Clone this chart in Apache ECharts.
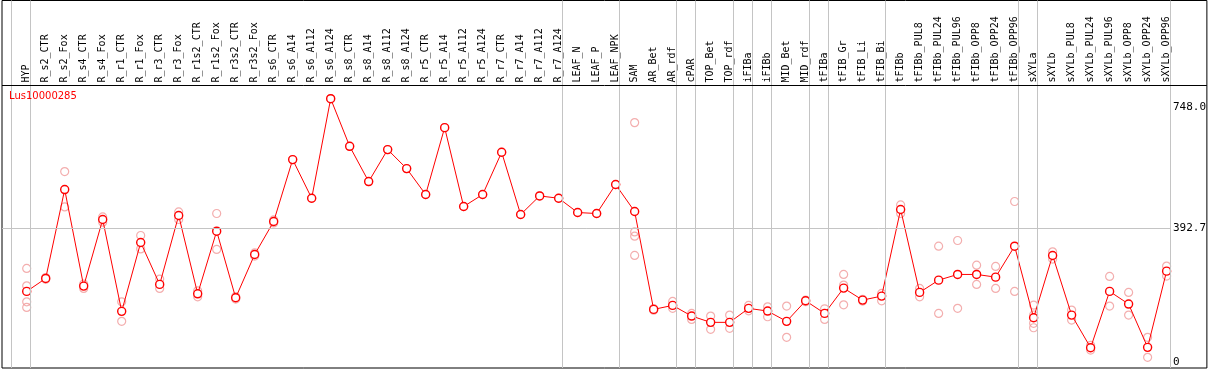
<!DOCTYPE html>
<html>
<head>
<meta charset="utf-8">
<script src="https://cdn.jsdelivr.net/npm/echarts@6/dist/echarts.min.js"></script>
<style>html,body{margin:0;padding:0;background:#fff;}#c{width:1209px;height:370px;}</style>
</head>
<body>
<div id="c"></div>
<script>
const geneName = 'Lus10000285';
const categories = ['HYP','R_s2_CTR','R_s2_Fox','R_s4_CTR','R_s4_Fox','R_r1_CTR','R_r1_Fox','R_r3_CTR','R_r3_Fox','R_r1s2_CTR','R_r1s2_Fox','R_r3s2_CTR','R_r3s2_Fox','R_s6_CTR','R_s6_A14','R_s6_A112','R_s6_A124','R_s8_CTR','R_s8_A14','R_s8_A112','R_s8_A124','R_r5_CTR','R_r5_A14','R_r5_A112','R_r5_A124','R_r7_CTR','R_r7_A14','R_r7_A112','R_r7_A124','LEAF_N','LEAF_P','LEAF_NPK','SAM','AR_Bet','AR_rdf','cPAR','TOP_Bet','TOP_rdf','iFIBa','iFIBb','MID_Bet','MID_rdf','tFIBa','tFIB_Gr','tFIB_Li','tFIB_Bi','tFIBb','tFIBb_PUL8','tFIBb_PUL24','tFIBb_PUL96','tFIBb_OPP8','tFIBb_OPP24','tFIBb_OPP96','sXYLa','sXYLb','sXYLb_PUL8','sXYLb_PUL24','sXYLb_PUL96','sXYLb_OPP8','sXYLb_OPP24','sXYLb_OPP96'];
const meanValues = [208.3,246.3,507.0,223.8,419.1,149.7,351.8,228.8,430.9,201.2,384.9,189.5,316.6,413.3,594.9,481.5,773.5,633.8,530.4,624.2,568.5,492.4,688.6,457.2,492.4,616.3,433.8,488.3,481.5,439.6,436.7,521.7,442.6,155.5,167.2,135.9,117.5,117.5,158.5,150.6,120.4,180.7,143.8,217.9,182.8,194.5,448.4,205.3,241.3,258.0,258.0,250.1,340.9,130.9,313.7,138.8,43.1,208.3,171.1,44.2,267.7];
const replicateValues = [
  [275.6,224.7,177.8,161.4],[244,249],[559.7,456.0],[217,230],[426.8,411.4],[177.8,120.4],[372.3,333.0],[244.3,217.0],[441.4,419.1],[192.4,210],
  [436.7,331.3],[185.7,193],[312,321],[409,418],[595],[481.5],[773.5],[633.8],[530.4],[624.2],
  [568.5],[492.4],[688.6],[457.2],[492.4],[616.3],[433.8],[488.3],[481.5],[439.6],
  [436.7],[521.7],[703.3,382.8,370.2,313.7],[153,158],[179.0,158.5],[143.8,126.2],[135.9,96.9],[138.8,99.9],[167.2,151.4],[163.1,133.9],
  [165.2,73.5],[178,183],[157.3,126.2],[258.0,226.7,169.0],[180,185],[180.7,202.4],[461.9,436.7],[217.0,192.4],[340.9,143.8],[357.6,158.5],
  [285.3,228.8],[281.5,217.0],[471.9,208.3],[168.1,114.5,101.6,139],[324.2,303],[153.5,124.2],[36.3,50],[252.2,165.2],[205.3,138.8],[73.5,14.9],
  [282.4,253.1]
];
const yTickValues = [0, 392.7, 748.0];
const gridlineValues = [392.7];
const groupEnds = [-1,0,28,31,34,35,37,38,39,41,42,45,52,53,60];

const X_MIN = -1.3, X_MAX = 62.12, Y_MIN = -16.4, Y_MAX = 1061.5;
const SEP_OFFSET = 0.19;
const HEADER_LEVEL = 812.5;

const meanData = meanValues.map((v, i) => [i, v]);
const repData = [];
replicateValues.forEach((arr, i) => arr.forEach(v => repData.push([i, v])));

const guideLines = groupEnds.map(g => ({ xAxis: g + SEP_OFFSET }));
gridlineValues.forEach(v => guideLines.push([{ coord: [X_MIN, v] }, { coord: [groupEnds[groupEnds.length - 1] + SEP_OFFSET, v] }]));

const chart = echarts.init(document.getElementById('c'), null, { renderer: 'canvas' });
chart.setOption({
  animation: false,
  backgroundColor: '#ffffff',
  title: {
    text: geneName, left: 9, top: 91, padding: 0,
    textStyle: { color: '#ff0000', fontSize: 10, fontWeight: 'normal', fontFamily: 'DejaVu Sans' }
  },
  grid: { left: 2, right: 2, top: 0.5, bottom: 2, show: true, borderColor: '#000', borderWidth: 1, backgroundColor: 'transparent', containLabel: false },
  xAxis: {
    type: 'value', min: X_MIN, max: X_MAX, position: 'top', offset: -85,
    axisLine: { show: false },
    axisTick: { show: false },
    splitLine: { show: false },
    axisLabel: {
      customValues: categories.map((c, i) => i),
      formatter: v => categories[Math.round(v)] || '',
      rotate: 90, margin: 3, color: '#000', fontSize: 10, fontFamily: 'DejaVu Sans Mono'
    }
  },
  yAxis: {
    type: 'value', min: Y_MIN, max: Y_MAX, position: 'right',
    axisLine: { show: false }, axisTick: { show: false }, splitLine: { show: false },
    axisLabel: {
      customValues: yTickValues,
      formatter: v => (v === 0 ? '0' : v.toFixed(1)),
      inside: true, align: 'left', margin: 34, color: '#000', fontSize: 11, fontFamily: 'DejaVu Sans Mono'
    }
  },
  series: [
    {
      name: 'guides', type: 'line', data: [], silent: true, z: 1,
      markLine: {
        silent: true, symbol: ['none', 'none'], label: { show: false },
        lineStyle: { color: '#c4c4c4', width: 1, type: 'solid' },
        emphasis: { disabled: true },
        data: guideLines
      }
    },
    {
      name: 'header', type: 'line', data: [], silent: true, z: 4,
      markLine: {
        silent: true, symbol: ['none', 'none'], label: { show: false },
        lineStyle: { color: '#000000', width: 1, type: 'solid' },
        emphasis: { disabled: true },
        data: [[{ coord: [X_MIN, HEADER_LEVEL] }, { coord: [X_MAX, HEADER_LEVEL] }]]
      }
    },
    {
      name: 'replicates', type: 'scatter', data: repData, z: 2, silent: true,
      symbol: 'circle', symbolSize: 8,
      itemStyle: { color: 'rgba(0,0,0,0)', borderColor: '#f09a9a', borderWidth: 1.2 }
    },
    {
      name: geneName, type: 'line', data: meanData, z: 3, silent: true,
      symbol: 'circle', symbolSize: 8,
      itemStyle: { color: '#ffffff', borderColor: '#ff0000', borderWidth: 1.4 },
      lineStyle: { color: '#ff0000', width: 1 }
    }
  ]
});
</script>
</body>
</html>
